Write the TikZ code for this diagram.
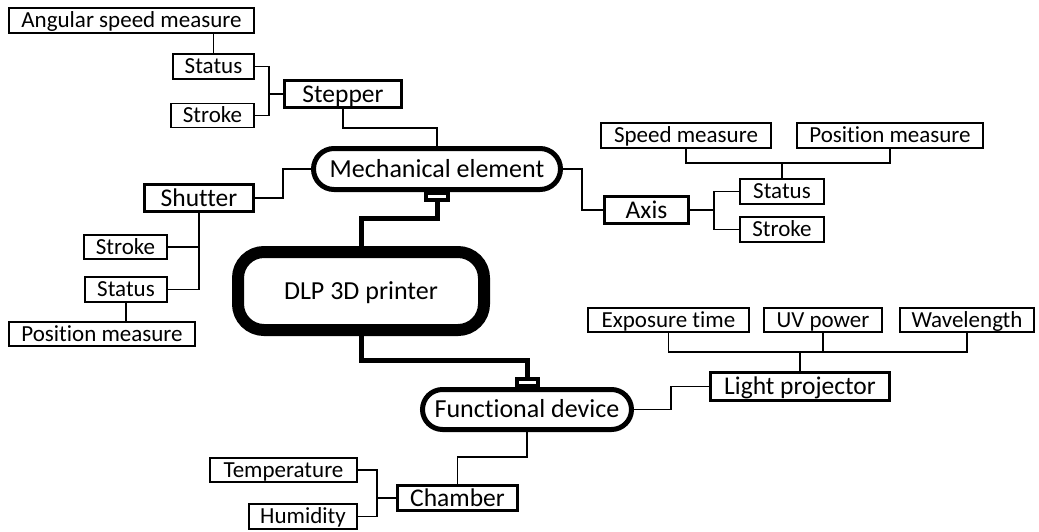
\documentclass[tikz,border=0pt]{standalone}
\usepackage{fontspec}
\setmainfont{Carlito}[Ligatures={NoCommon}]
\usetikzlibrary{shapes.misc}
\begin{document}
\begin{tikzpicture}[x=1pt,y=-1pt,
  attr/.style={draw, line width=1.8pt, inner sep=0pt, fill=white,
    font=\fontsize{23}{25}\selectfont, text height=14.8pt, text depth=0pt},
  item/.style={draw, line width=2.6pt, inner sep=0pt, fill=white,
    font=\fontsize{25.5}{28}\selectfont, text height=16.4pt, text depth=0pt},
  hub/.style={draw, rounded rectangle, line width=5pt, inner sep=0pt, fill=white,
    font=\fontsize{26}{28}\selectfont, text height=16.7pt, text depth=0pt},
  core/.style={draw, rectangle, rounded corners=26pt, line width=12pt, inner sep=0pt,
    fill=white, font=\fontsize{26}{28}\selectfont, text height=16.7pt, text depth=0pt},
  tabbox/.style={draw, rectangle, line width=4pt, inner sep=0pt, fill=white},
  link/.style={line width=1.7pt},
  trunk/.style={line width=5pt}]

\fill[white] (0,0) rectangle (1039,531);
\useasboundingbox (0,0) rectangle (1039,531);

% central printer and its two main branches
\node[core, minimum width=246pt, minimum height=78pt] (dlp) at (361,291) {DLP 3D printer};
\node[hub, minimum width=247pt, minimum height=41pt] (mech) at (437,169) {Mechanical element};
\node[hub, minimum width=209pt, minimum height=40pt] (func) at (527,409.5) {Functional device};

% trunk lines with their small sockets
\draw[trunk] (437,197) -- ++(0,21) -| (dlp.north);
\draw[trunk] (dlp.south) -- ++(0,24) -| (527.5,382);
\node[tabbox, minimum width=22pt, minimum height=7pt] (mtab) at (437,196.5) {};
\node[tabbox, minimum width=21pt, minimum height=7pt] (ftab) at (527.5,382) {};

% stepper branch
\node[attr, minimum width=245pt, minimum height=25pt] (ang) at (131.5,20.5) {Angular speed measure};
\node[attr, minimum width=81pt, minimum height=25pt] (st1) at (213.5,66.5) {Status};
\node[attr, minimum width=83pt, minimum height=24pt] (sk1) at (212.5,115.5) {Stroke};
\node[item, minimum width=117pt, minimum height=27pt] (stp) at (343,94) {Stepper};
\draw[link] (st1.north) -- (st1.north |- ang.south);
\draw[link] (st1.east) -- ++(14,0) |- (sk1.east);
\draw[link] (stp.west) -- ++(-14,0);
\draw[link] (stp.south) -- ++(0,19) -| (mech.north);

% shutter branch
\node[item, minimum width=109pt, minimum height=27pt] (sht) at (199,198) {Shutter};
\node[attr, minimum width=83pt, minimum height=24pt] (sk2) at (125.5,247) {Stroke};
\node[attr, minimum width=82pt, minimum height=25pt] (st2) at (126,289.5) {Status};
\node[attr, minimum width=186pt, minimum height=24pt] (pos1) at (102,334) {Position measure};
\draw[link] (sht.east) -- ++(28,0) |- (mech.west);
\draw[link] (sht.south) |- (st2.east);
\draw[link] (sk2.east) -- (sk2.east -| sht.south);
\draw[link] (st2.south) -- (st2.south |- pos1.north);

% axis branch
\node[item, minimum width=84pt, minimum height=27pt] (axis) at (646.5,210) {Axis};
\node[attr, minimum width=84pt, minimum height=25pt] (st3) at (782,191.5) {Status};
\node[attr, minimum width=84pt, minimum height=25pt] (sk3) at (782,229.5) {Stroke};
\node[attr, minimum width=170pt, minimum height=25pt] (spd) at (686,135.5) {Speed measure};
\node[attr, minimum width=186pt, minimum height=25pt] (pos2) at (890,135.5) {Position measure};
\draw[link] (mech.east) -- ++(19,0) |- (axis.west);
\draw[link] (axis.east) -- ++(24,0);
\draw[link] (st3.west) -- ++(-25,0) |- (sk3.west);
\draw[link] (spd.south) -- ++(0,14) -| (pos2.south);
\draw[link] (st3.north) -- ++(0,-15);

% light projector branch
\node[item, minimum width=179pt, minimum height=28pt] (lp) at (800,386.5) {Light projector};
\node[attr, minimum width=161pt, minimum height=24pt] (exp) at (668.5,320) {Exposure time};
\node[attr, minimum width=118pt, minimum height=24pt] (uv) at (823,320) {UV power};
\node[attr, minimum width=134pt, minimum height=24pt] (wl) at (967,320) {Wavelength};
\draw[link] (func.east) -- ++(37,0) |- (lp.west);
\draw[link] (exp.south) -- ++(0,19) -| (wl.south);
\draw[link] (uv.south) -- ++(0,19);
\draw[link] (lp.north) -- ++(0,-19);

% chamber branch
\node[item, minimum width=120pt, minimum height=25pt] (cham) at (457.5,498) {Chamber};
\node[attr, minimum width=147pt, minimum height=24pt] (temp) at (283.5,470) {Temperature};
\node[attr, minimum width=108pt, minimum height=25pt] (hum) at (303,516.5) {Humidity};
\draw[link] (func.south) -- ++(0,25) -| (cham.north);
\draw[link] (temp.east) -- ++(19,0) |- (hum.east);
\draw[link] (cham.west) -- ++(-19,0);

\end{tikzpicture}
\end{document}
